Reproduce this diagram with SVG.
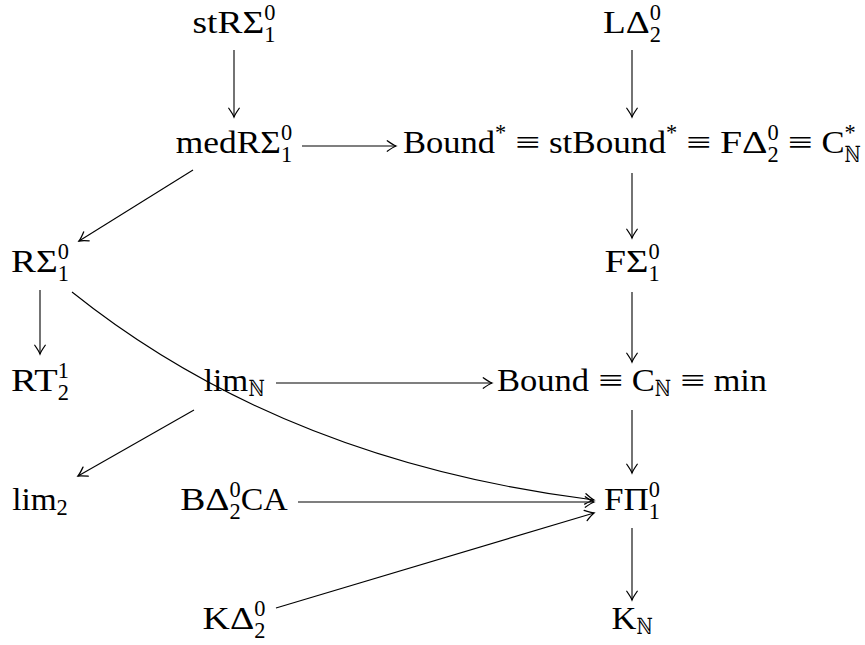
<svg xmlns="http://www.w3.org/2000/svg" width="865" height="645" viewBox="0 0 865 645">
<style>
text{font-family:"Liberation Serif","DejaVu Serif",serif;fill:#000}
.m{font-size:32px}
.s{font-size:22.4px}
.bb{font-family:"DejaVu Serif","DejaVu Sans",serif}
.e path{fill:none;stroke:#000;stroke-width:1.1}
</style>
<defs>
<marker id="ah" markerUnits="userSpaceOnUse" markerWidth="14" markerHeight="14" viewBox="-8 -6 10 12" refX="0" refY="0" orient="auto" overflow="visible">
<path d="M-7.5,-4.5 Q-2.5,-1 0,0 Q-2.5,1 -7.5,4.5" fill="none" stroke="#000" stroke-width="1.1" stroke-linecap="round"/>
</marker>
</defs>
<rect width="865" height="645" fill="#fff"/>
<g id="connectors" class="e">
<path d="M234,50 V117" marker-end="url(#ah)"/>
<path d="M632,50 V117" marker-end="url(#ah)"/>
<path d="M632,173 V238" marker-end="url(#ah)"/>
<path d="M632,292 V362" marker-end="url(#ah)"/>
<path d="M632,410 V473" marker-end="url(#ah)"/>
<path d="M632,528 V600" marker-end="url(#ah)"/>
<path d="M40,290 V354" marker-end="url(#ah)"/>
<path d="M193,170 L79,241" marker-end="url(#ah)"/>
<path d="M194,410 L78,476" marker-end="url(#ah)"/>
<path d="M302,146 H396" marker-end="url(#ah)"/>
<path d="M276,383 H492" marker-end="url(#ah)"/>
<path d="M298,502 H594" marker-end="url(#ah)"/>
<path d="M276,608 L594,513" marker-end="url(#ah)"/>
<path d="M72,292 Q283,461 594,500" marker-end="url(#ah)"/>
</g>
<g id="n-stR">
<text class="m" x="192.5" y="33" textLength="71.7" lengthAdjust="spacingAndGlyphs">stRΣ</text>
<text class="s" x="264.2" y="20">0</text>
<text class="s" x="264.2" y="42">1</text>
</g>
<g id="n-LD">
<text class="m" x="603" y="33" textLength="46.7" lengthAdjust="spacingAndGlyphs">LΔ</text>
<text class="s" x="649.7" y="20">0</text>
<text class="s" x="649.7" y="42">2</text>
</g>
<g id="n-medR">
<text class="m" x="175.7" y="153" textLength="105.3" lengthAdjust="spacingAndGlyphs">medRΣ</text>
<text class="s" x="281" y="140">0</text>
<text class="s" x="281" y="162">1</text>
</g>
<g id="n-BoundStar">
<text class="m" x="403" y="153" textLength="92" lengthAdjust="spacingAndGlyphs">Bound</text>
<text class="s" x="495" y="140">*</text>
<text class="m" x="515.1" y="153" textLength="24.9" lengthAdjust="spacingAndGlyphs">≡</text>
<text class="m" x="548.9" y="153" textLength="117.1" lengthAdjust="spacingAndGlyphs">stBound</text>
<text class="s" x="666" y="140">*</text>
<text class="m" x="686.1" y="153" textLength="24.9" lengthAdjust="spacingAndGlyphs">≡</text>
<text class="m" x="719.9" y="153" textLength="47.6" lengthAdjust="spacingAndGlyphs">FΔ</text>
<text class="s" x="767.5" y="140">0</text>
<text class="s" x="767.5" y="162">2</text>
<text class="m" x="787.6" y="153" textLength="24.9" lengthAdjust="spacingAndGlyphs">≡</text>
<text class="m" x="821.4" y="153" textLength="23.1" lengthAdjust="spacingAndGlyphs">C</text>
<text class="s" x="844.5" y="140">*</text>
<text class="s bb" x="844.5" y="162" textLength="16.2" lengthAdjust="spacingAndGlyphs">ℕ</text>
</g>
<g id="n-FS">
<text class="m" x="604.4" y="272" textLength="44" lengthAdjust="spacingAndGlyphs">FΣ</text>
<text class="s" x="648.4" y="259">0</text>
<text class="s" x="648.4" y="281">1</text>
</g>
<g id="n-RS">
<text class="m" x="11" y="272" textLength="46.7" lengthAdjust="spacingAndGlyphs">RΣ</text>
<text class="s" x="57.7" y="259">0</text>
<text class="s" x="57.7" y="281">1</text>
</g>
<g id="n-RT">
<text class="m" x="11" y="391" textLength="46.7" lengthAdjust="spacingAndGlyphs">RT</text>
<text class="s" x="57.7" y="378">1</text>
<text class="s" x="57.7" y="400">2</text>
</g>
<g id="n-limN">
<text class="m" x="203.7" y="391" textLength="44.4" lengthAdjust="spacingAndGlyphs">lim</text>
<text class="s bb" x="248.6" y="396" textLength="16.2" lengthAdjust="spacingAndGlyphs">ℕ</text>
</g>
<g id="n-Bound">
<text class="m" x="497" y="391" textLength="92" lengthAdjust="spacingAndGlyphs">Bound</text>
<text class="m" x="597.9" y="391" textLength="24.9" lengthAdjust="spacingAndGlyphs">≡</text>
<text class="m" x="631.7" y="391" textLength="23.1" lengthAdjust="spacingAndGlyphs">C</text>
<text class="s bb" x="654.8" y="396" textLength="16.2" lengthAdjust="spacingAndGlyphs">ℕ</text>
<text class="m" x="679.9" y="391" textLength="24.9" lengthAdjust="spacingAndGlyphs">≡</text>
<text class="m" x="713.7" y="391" textLength="53.3" lengthAdjust="spacingAndGlyphs">min</text>
</g>
<g id="n-lim2">
<text class="m" x="12.2" y="510" textLength="44.4" lengthAdjust="spacingAndGlyphs">lim</text>
<text class="s" x="56.6" y="515">2</text>
</g>
<g id="n-BDCA">
<text class="m" x="180.2" y="510" textLength="49.3" lengthAdjust="spacingAndGlyphs">BΔ</text>
<text class="s" x="229.5" y="497">0</text>
<text class="s" x="229.5" y="519">2</text>
<text class="m" x="240.7" y="510" textLength="47.1" lengthAdjust="spacingAndGlyphs">CA</text>
</g>
<g id="n-FP">
<text class="m" x="603.9" y="510" textLength="44.9" lengthAdjust="spacingAndGlyphs">FΠ</text>
<text class="s" x="648.8" y="497">0</text>
<text class="s" x="648.8" y="519">1</text>
</g>
<g id="n-KD">
<text class="m" x="202.6" y="629" textLength="51.6" lengthAdjust="spacingAndGlyphs">KΔ</text>
<text class="s" x="254.2" y="616">0</text>
<text class="s" x="254.2" y="638">2</text>
</g>
<g id="n-KN">
<text class="m" x="611.5" y="629" textLength="24.9" lengthAdjust="spacingAndGlyphs">K</text>
<text class="s bb" x="636.4" y="634" textLength="16.2" lengthAdjust="spacingAndGlyphs">ℕ</text>
</g>
</svg>
